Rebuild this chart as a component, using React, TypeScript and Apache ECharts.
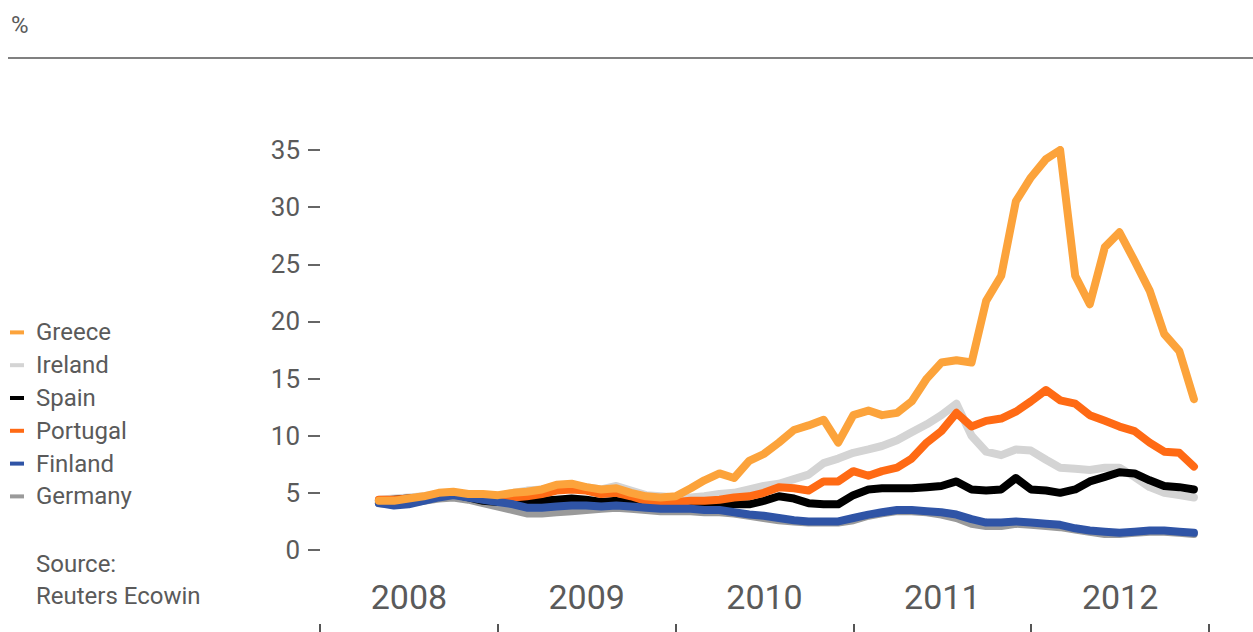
import React, { useEffect, useRef } from "react";
import * as echarts from "echarts";

const months = [
  "2008-05-01", "2008-06-01", "2008-07-01", "2008-08-01", "2008-09-01", "2008-10-01", "2008-11-01", "2008-12-01",
  "2009-01-01", "2009-02-01", "2009-03-01", "2009-04-01", "2009-05-01", "2009-06-01", "2009-07-01", "2009-08-01", "2009-09-01", "2009-10-01", "2009-11-01", "2009-12-01",
  "2010-01-01", "2010-02-01", "2010-03-01", "2010-04-01", "2010-05-01", "2010-06-01", "2010-07-01", "2010-08-01", "2010-09-01", "2010-10-01", "2010-11-01", "2010-12-01",
  "2011-01-01", "2011-02-01", "2011-03-01", "2011-04-01", "2011-05-01", "2011-06-01", "2011-07-01", "2011-08-01", "2011-09-01", "2011-10-01", "2011-11-01", "2011-12-01",
  "2012-01-01", "2012-02-01", "2012-03-01", "2012-04-01", "2012-05-01", "2012-06-01", "2012-07-01", "2012-08-01", "2012-09-01", "2012-10-01", "2012-11-01", "2012-12-01",
];

const years = ["2008", "2009", "2010", "2011", "2012"];

const greece = [
  4.3, 4.3, 4.5, 4.7, 5.0, 5.1, 4.9, 4.9,
  4.8, 5.0, 5.1, 5.3, 5.7, 5.8, 5.5, 5.3, 5.4, 5.0, 4.7, 4.6,
  4.7, 5.4, 6.1, 6.7, 6.3, 7.8, 8.4, 9.4, 10.5, 10.9, 11.4, 9.4,
  11.8, 12.2, 11.8, 12.0, 13.0, 15.0, 16.4, 16.6, 16.4, 21.8, 24.0, 30.5,
  32.6, 34.2, 35.0, 24.0, 21.5, 26.5, 27.8, 25.3, 22.7, 18.9, 17.4, 13.2,
];
const ireland = [
  4.4, 4.5, 4.6, 4.7, 4.9, 5.0, 4.8, 4.7,
  4.7, 5.0, 5.2, 5.3, 5.5, 5.6, 5.5, 5.3, 5.6, 5.2, 4.8, 4.7,
  4.6, 4.6, 4.7, 4.9, 5.0, 5.3, 5.6, 5.8, 6.2, 6.6, 7.6, 8.0,
  8.5, 8.8, 9.1, 9.6, 10.3, 11.0, 11.8, 12.8, 10.0, 8.6, 8.3, 8.8,
  8.7, 7.9, 7.2, 7.1, 7.0, 7.2, 7.2, 6.4, 5.5, 5.0, 4.8, 4.6,
];
const spain = [
  4.3, 4.4, 4.5, 4.6, 4.8, 4.9, 4.6, 4.3,
  4.2, 4.2, 4.2, 4.3, 4.4, 4.5, 4.4, 4.2, 4.3, 4.1, 4.0, 4.0,
  4.0, 4.0, 3.9, 3.9, 4.0, 4.0, 4.3, 4.7, 4.5, 4.1, 4.0, 4.0,
  4.8, 5.3, 5.4, 5.4, 5.4, 5.5, 5.6, 6.0, 5.3, 5.2, 5.3, 6.3,
  5.3, 5.2, 5.0, 5.3, 6.0, 6.4, 6.8, 6.7, 6.1, 5.6, 5.5, 5.3,
];
const portugal = [
  4.4, 4.4, 4.5, 4.6, 4.9, 5.0, 4.8, 4.6,
  4.5, 4.6, 4.7, 4.9, 5.2, 5.3, 5.2, 4.9, 5.0, 4.7, 4.3, 4.2,
  4.2, 4.3, 4.3, 4.4, 4.6, 4.7, 5.0, 5.5, 5.4, 5.2, 6.0, 6.0,
  6.9, 6.5, 6.9, 7.2, 8.0, 9.4, 10.4, 12.0, 10.8, 11.3, 11.5, 12.1,
  13.0, 14.0, 13.1, 12.8, 11.8, 11.3, 10.8, 10.4, 9.4, 8.6, 8.5, 7.3,
];
const finland = [
  4.1, 3.9, 4.0, 4.3, 4.6, 4.8, 4.6, 4.4,
  4.2, 4.0, 3.7, 3.7, 3.8, 3.9, 3.9, 3.8, 3.9, 3.8, 3.7, 3.6,
  3.6, 3.6, 3.5, 3.5, 3.3, 3.1, 3.0, 2.8, 2.6, 2.5, 2.5, 2.5,
  2.8, 3.1, 3.3, 3.5, 3.5, 3.4, 3.3, 3.1, 2.7, 2.4, 2.4, 2.5,
  2.4, 2.3, 2.2, 1.9, 1.7, 1.6, 1.5, 1.6, 1.7, 1.7, 1.6, 1.5,
];
const germany = [
  4.1, 4.0, 4.1, 4.3, 4.5, 4.6, 4.4, 4.1,
  3.8, 3.5, 3.2, 3.2, 3.3, 3.4, 3.5, 3.6, 3.7, 3.6, 3.5, 3.4,
  3.4, 3.4, 3.3, 3.3, 3.2, 3.0, 2.8, 2.6, 2.5, 2.4, 2.4, 2.4,
  2.6, 3.0, 3.2, 3.4, 3.4, 3.3, 3.1, 2.8, 2.3, 2.1, 2.1, 2.3,
  2.2, 2.1, 2.0, 1.8, 1.6, 1.4, 1.4, 1.5, 1.6, 1.6, 1.5, 1.4,
];

const seriesDefs = [
  { name: "Germany", data: germany, color: "#9a9a9a" },
  { name: "Ireland", data: ireland, color: "#d4d4d4" },
  { name: "Spain", data: spain, color: "#000000" },
  { name: "Portugal", data: portugal, color: "#ff6a14" },
  { name: "Finland", data: finland, color: "#2f54a6" },
  { name: "Greece", data: greece, color: "#fca33b" },
];
const legendOrder = ["Greece", "Ireland", "Spain", "Portugal", "Finland", "Germany"];

const FONT = "Roboto, 'DejaVu Sans', sans-serif";
const TEXT = "#5a5a5a";

export default function App() {
  const ref = useRef<HTMLDivElement>(null);
  useEffect(() => {
    if (!ref.current) return;
    const chart = echarts.init(ref.current, undefined, { renderer: "svg" });
    chart.setOption({
      animation: false,
      backgroundColor: "#ffffff",
      textStyle: { fontFamily: FONT },
      grid: { left: 320, right: 44, top: 150, bottom: 82, containLabel: false },
      xAxis: [
        {
          type: "time",
          min: "2008-01-01",
          max: "2013-01-01",
          show: false,
        },
        {
          type: "category",
          data: years,
          boundaryGap: true,
          position: "bottom",
          offset: 74,
          axisLine: { show: false },
          axisTick: { show: true, length: 9, lineStyle: { color: "#555", width: 2 } },
          axisLabel: { inside: true, margin: 10, color: TEXT, fontSize: 34, fontFamily: FONT },
          splitLine: { show: false },
        },
      ],
      yAxis: {
        type: "value",
        min: 0,
        max: 35,
        interval: 5,
        axisLine: { show: false },
        axisTick: { show: true, length: 12, lineStyle: { color: "#666", width: 2 } },
        axisLabel: { margin: 20, color: TEXT, fontSize: 26, fontFamily: FONT },
        splitLine: { show: false },
      },
      legend: {
        orient: "vertical",
        left: 10,
        top: 316,
        padding: 0,
        data: legendOrder,
        icon: "rect",
        itemWidth: 14,
        itemHeight: 4,
        itemGap: 0,
        textStyle: { color: TEXT, fontSize: 24, fontFamily: FONT, lineHeight: 32.8, padding: [0, 0, 0, 7] },
        selectedMode: false,
      },
      graphic: [
        {
          type: "text",
          left: 11,
          top: 13,
          style: { text: "%", fill: TEXT, fontSize: 24, fontFamily: FONT },
        },
        {
          type: "line",
          shape: { x1: 8, y1: 58, x2: 1253, y2: 58 },
          style: { stroke: "#808080", lineWidth: 2 },
        },
        {
          type: "text",
          left: 36,
          top: 548,
          style: {
            text: "Source:\nReuters Ecowin",
            fill: TEXT,
            fontSize: 24,
            lineHeight: 32,
            fontFamily: FONT,
          },
        },
      ],
      series: seriesDefs.map((s) => ({
        name: s.name,
        type: "line",
        xAxisIndex: 0,
        showSymbol: false,
        symbol: "none",
        color: s.color,
        lineStyle: { color: s.color, width: 8, cap: "round", join: "round" },
        data: months.map((m, i) => [m, s.data[i]]),
      })),
    });
    return () => chart.dispose();
  }, []);
  return (
    <div
      ref={ref}
      style={{ position: "absolute", left: 0, top: 0, width: 1253, height: 632 }}
    />
  );
}
